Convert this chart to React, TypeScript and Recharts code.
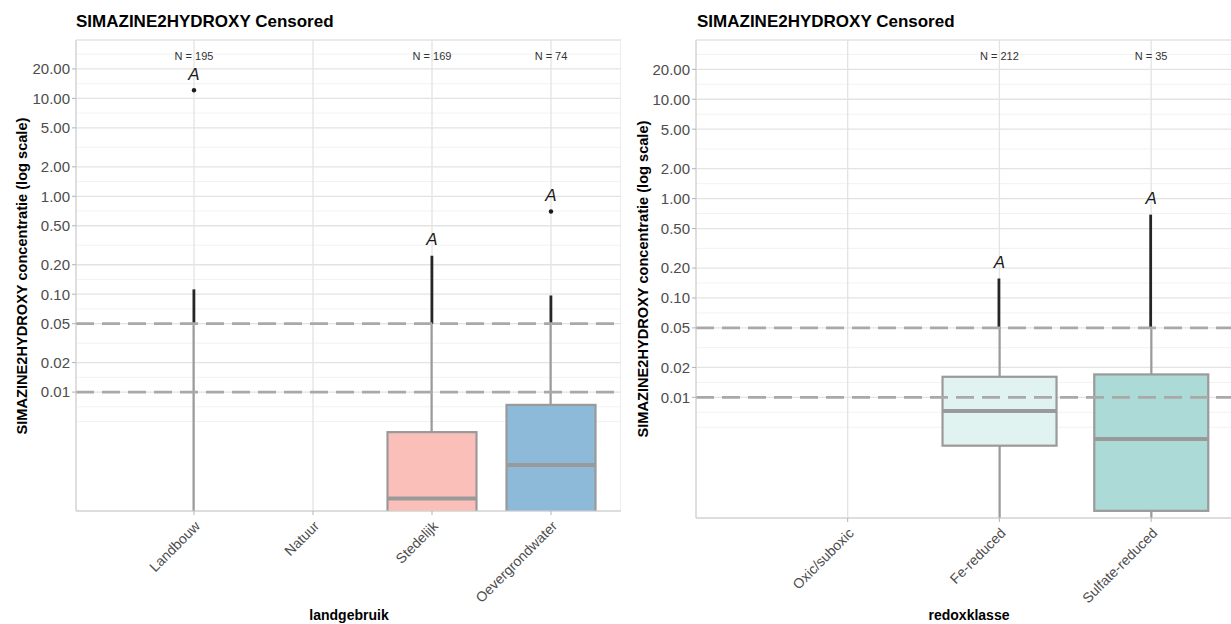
import React from "react";
import {
  ComposedChart,
  Bar,
  Scatter,
  XAxis,
  YAxis,
  CartesianGrid,
  ReferenceLine,
  Cell,
} from "recharts";

const FONT = '"Liberation Sans", Arial, Helvetica, sans-serif';
const TITLE = "SIMAZINE2HYDROXY Censored";
const Y_TITLE = "SIMAZINE2HYDROXY concentratie (log scale)";
const BORDER = "#d0d0d0";

// y axis (log)
const yTicks = [0.01, 0.02, 0.05, 0.1, 0.2, 0.5, 1, 2, 5, 10, 20];
const yDomain: [number, number] = [0.00061, 39.5];
const limitLines = [0.05, 0.01];
const reportLimit = 0.05;
const nLabelY = 27.3;
const letterLift = 1.46;

// landgebruik
const landCats = ["Landbouw", "Natuur", "Stedelijk", "Oevergrondwater"];
const landN = [195, null, 169, 74];
const landLetters = ["A", null, "A", "A"];
const landQ1 = [null, null, 0.0003, 0.0003];
const landMedian = [null, null, 0.00082, 0.0018];
const landQ3 = [null, null, 0.0039, 0.0074];
const landLow = [0.0004, null, 0.0003, 0.0003];
const landHigh = [0.112, null, 0.247, 0.097];
const landOutliers = [12.1, null, null, 0.7];
const landFills = ["#ffffff", "#ffffff", "#fbbfb9", "#8ebad9"];

// redoxklasse
const redoxCats = ["Oxic/suboxic", "Fe-reduced", "Sulfate-reduced"];
const redoxN = [null, 212, 35];
const redoxLetters = [null, "A", "A"];
const redoxQ1 = [null, 0.00326, 0.00072];
const redoxMedian = [null, 0.0073, 0.0038];
const redoxQ3 = [null, 0.0161, 0.017];
const redoxLow = [null, 0.0004, 0.0005];
const redoxHigh = [null, 0.157, 0.69];
const redoxOutliers = [null, null, null];
const redoxFills = ["#ffffff", "#e0f3f0", "#acdad6"];

// minor grid: geometric midpoints, extended one step past the majors
const extTicks = [
  (yTicks[0] * yTicks[0]) / yTicks[1],
  ...yTicks,
  (yTicks[yTicks.length - 1] * yTicks[yTicks.length - 1]) / yTicks[yTicks.length - 2],
];
const minorTicks = [extTicks[0]];
for (let i = 0; i < extTicks.length - 1; i++) minorTicks.push(Math.sqrt(extTicks[i] * extTicks[i + 1]));
const minorInRange = minorTicks.filter((v) => v > yDomain[0] && v < yDomain[1]);

function buildRows(
  cats: string[],
  n: (number | null)[],
  letters: (string | null)[],
  q1: (number | null)[],
  med: (number | null)[],
  q3: (number | null)[],
  low: (number | null)[],
  high: (number | null)[],
  out: (number | null)[]
) {
  return cats.map((cat, i) => {
    const hi = high[i];
    const lo = low[i];
    const top = Math.max(hi ?? 0, out[i] ?? 0);
    return {
      cat,
      box: q1[i] != null && q3[i] != null ? [q1[i], q3[i]] : null,
      median: med[i],
      whiskerGrey: lo != null && hi != null ? [lo, Math.min(hi, reportLimit)] : null,
      whiskerDark: hi != null && hi > reportLimit ? [reportLimit, hi] : null,
      outlier: out[i],
      letter: letters[i],
      letterY: letters[i] ? top * letterLift : null,
      nLabel: n[i] != null ? `N = ${n[i]}` : null,
      nY: n[i] != null ? nLabelY : null,
    };
  });
}

function SlantTick(props: any) {
  const { x, y, payload } = props;
  const yy = y + 3;
  return (
    <text
      x={x}
      y={yy}
      dy="0.71em"
      textAnchor="end"
      transform={`rotate(-45 ${x} ${yy})`}
      fontSize={14}
      fill="#4d4d4d"
      fontFamily={FONT}
    >
      {payload.value}
    </text>
  );
}

const rangeShape = (key: string, stroke?: string, strokeWidth?: number) => (p: any) => {
  if (!p.payload || !p.payload[key] || !isFinite(p.y) || !isFinite(p.height)) return <g />;
  return (
    <rect
      x={p.x}
      y={p.y}
      width={p.width}
      height={p.height}
      fill={p.fill}
      stroke={stroke}
      strokeWidth={strokeWidth}
    />
  );
};

function BoxPanel({
  rows,
  fills,
  width,
  yAxisWidth,
  xHeight,
  padLeft,
  padRight,
  boxWidth,
}: {
  rows: ReturnType<typeof buildRows>;
  fills: string[];
  width: number;
  yAxisWidth: number;
  xHeight: number;
  padLeft: number;
  padRight: number;
  boxWidth: number;
}) {
  const pad = { left: padLeft, right: padRight };
  const half = boxWidth / 2;
  return (
    <ComposedChart
      width={width}
      height={624}
      data={rows}
      margin={{ top: 40, right: 0, left: 0, bottom: 0 }}
    >
      <CartesianGrid
        horizontalValues={minorInRange}
        vertical={false}
        stroke="#f2f2f2"
        strokeWidth={1}
      />
      <CartesianGrid stroke="#e3e3e3" strokeWidth={1.3} />
      <XAxis
        dataKey="cat"
        type="category"
        padding={pad}
        height={xHeight}
        interval={0}
        axisLine={{ stroke: BORDER }}
        tickLine={{ stroke: "#b3b3b3" }}
        tickSize={4}
        tickMargin={2}
        tick={<SlantTick />}
      />
      <XAxis
        xAxisId="top"
        orientation="top"
        dataKey="cat"
        type="category"
        padding={pad}
        height={0}
        tick={false}
        tickLine={false}
        axisLine={{ stroke: BORDER }}
      />
      <XAxis xAxisId="wg" dataKey="cat" type="category" padding={pad} hide />
      <XAxis xAxisId="wd" dataKey="cat" type="category" padding={pad} hide />
      <XAxis xAxisId="box" dataKey="cat" type="category" padding={pad} hide />
      <YAxis
        type="number"
        scale="log"
        domain={yDomain}
        allowDataOverflow
        ticks={yTicks}
        interval={0}
        width={yAxisWidth}
        axisLine={{ stroke: BORDER }}
        tickLine={{ stroke: "#b3b3b3" }}
        tickSize={4}
        tickMargin={2}
        tick={{ fill: "#4d4d4d", fontSize: 15, fontFamily: FONT }}
        tickFormatter={(v: number) => v.toFixed(2)}
      />
      <YAxis
        yAxisId="right"
        orientation="right"
        type="number"
        domain={yDomain}
        width={0}
        tick={false}
        tickLine={false}
        axisLine={{ stroke: BORDER }}
      />
      <Bar
        xAxisId="wg"
        dataKey="whiskerGrey"
        barSize={2.2}
        fill="#9a9a9a"
        isAnimationActive={false}
        shape={rangeShape("whiskerGrey")}
      />
      <Bar
        xAxisId="wd"
        dataKey="whiskerDark"
        barSize={2.8}
        fill="#262626"
        isAnimationActive={false}
        shape={rangeShape("whiskerDark")}
      />
      <Bar
        xAxisId="box"
        dataKey="box"
        barSize={boxWidth}
        isAnimationActive={false}
        shape={rangeShape("box", "#9a9a9a", 2.2)}
      >
        {rows.map((r, i) => (
          <Cell key={r.cat} fill={fills[i]} />
        ))}
      </Bar>
      <Scatter
        dataKey="median"
        isAnimationActive={false}
        shape={(p: any) =>
          p.payload && p.payload.median != null && isFinite(p.cy) ? (
            <line x1={p.cx - half} x2={p.cx + half} y1={p.cy} y2={p.cy} stroke="#9a9a9a" strokeWidth={4} />
          ) : (
            <g />
          )
        }
      />
      <Scatter
        dataKey="outlier"
        isAnimationActive={false}
        shape={(p: any) =>
          p.payload && p.payload.outlier != null && isFinite(p.cy) ? (
            <circle cx={p.cx} cy={p.cy} r={2.2} fill="#1a1a1a" />
          ) : (
            <g />
          )
        }
      />
      <Scatter
        dataKey="letterY"
        isAnimationActive={false}
        shape={(p: any) =>
          p.payload && p.payload.letter && isFinite(p.cy) ? (
            <text
              x={p.cx}
              y={p.cy}
              textAnchor="middle"
              dominantBaseline="central"
              fontSize={17}
              fontStyle="italic"
              fontFamily={FONT}
              fill="#1a1a1a"
            >
              {p.payload.letter}
            </text>
          ) : (
            <g />
          )
        }
      />
      <Scatter
        dataKey="nY"
        isAnimationActive={false}
        shape={(p: any) =>
          p.payload && p.payload.nLabel && isFinite(p.cy) ? (
            <text
              x={p.cx}
              y={p.cy}
              textAnchor="middle"
              dominantBaseline="central"
              fontSize={11}
              fontFamily={FONT}
              fill="#333333"
            >
              {p.payload.nLabel}
            </text>
          ) : (
            <g />
          )
        }
      />
      {limitLines.map((v) => (
        <ReferenceLine key={v} y={v} stroke="#a9a9a9" strokeWidth={2.8} strokeDasharray="18 8" />
      ))}
    </ComposedChart>
  );
}

const landRows = buildRows(landCats, landN, landLetters, landQ1, landMedian, landQ3, landLow, landHigh, landOutliers);
const redoxRows = buildRows(redoxCats, redoxN, redoxLetters, redoxQ1, redoxMedian, redoxQ3, redoxLow, redoxHigh, redoxOutliers);

const abs = (left: number, top: number): React.CSSProperties => ({ position: "absolute", left, top });

export default function App() {
  const titleStyle: React.CSSProperties = { fontSize: 17, fontWeight: 700, lineHeight: "20px", whiteSpace: "nowrap", color: "#000" };
  const axisTitle: React.CSSProperties = { fontSize: 14, fontWeight: 700, whiteSpace: "nowrap", color: "#000", transform: "translate(-50%, -50%)", lineHeight: "16px" };
  const yTitle: React.CSSProperties = { ...axisTitle, fontSize: 14.6, transform: "translate(-50%, -50%) rotate(-90deg)" };
  return (
    <div
      style={{
        position: "absolute",
        left: 0,
        top: 0,
        width: 1231,
        height: 624,
        overflow: "hidden",
        background: "#ffffff",
        fontFamily: FONT,
      }}
    >
      <div style={abs(0, 0)}>
        <BoxPanel rows={landRows} fills={landFills} width={621} yAxisWidth={76} xHeight={113} padLeft={58.5} padRight={10.5} boxWidth={89} />
      </div>
      <div style={abs(615, 0)}>
        <BoxPanel rows={redoxRows} fills={redoxFills} width={627} yAxisWidth={81} xHeight={106} padLeft={75.8} padRight={15} boxWidth={114} />
      </div>
      <div style={{ ...abs(76, 12), ...titleStyle }}>{TITLE}</div>
      <div style={{ ...abs(697, 12), ...titleStyle }}>{TITLE}</div>
      <div style={{ ...abs(22, 276), ...yTitle }}>{Y_TITLE}</div>
      <div style={{ ...abs(643, 279), ...yTitle }}>{Y_TITLE}</div>
      <div style={{ ...abs(349, 615), ...axisTitle }}>landgebruik</div>
      <div style={{ ...abs(969, 615), ...axisTitle }}>redoxklasse</div>
    </div>
  );
}
